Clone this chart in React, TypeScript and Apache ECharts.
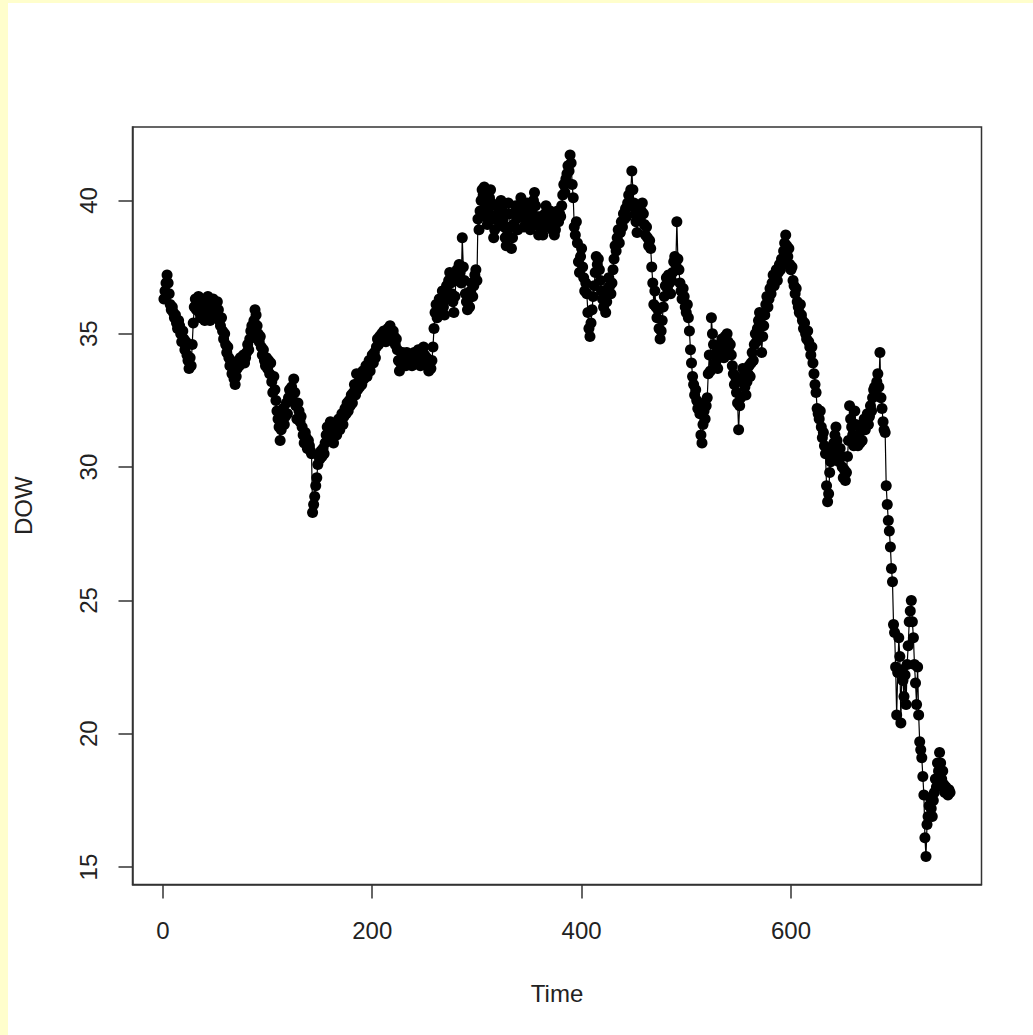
import React, { useEffect, useRef } from "react";
import * as echarts from "echarts";

// DOW closing values (time index 1..752)
const dowPart1: number[] = [
  36.3, 36.6, 36.9, 37.2, 36.9, 36.5, 36.1, 35.9, 36.0, 35.8,
  35.6, 35.7, 35.4, 35.2, 35.5, 35.3, 35.0, 34.7, 35.1, 34.8,
  34.4, 34.7, 34.2, 34.0, 33.7, 34.1, 33.8, 34.6, 35.4, 36.0,
  36.3, 35.9, 36.2, 36.4, 35.8, 35.6, 36.1, 36.3, 35.7, 35.5,
  35.9, 36.2, 36.4, 35.8, 35.5, 35.7, 36.0, 36.3, 35.9, 35.6,
  35.8, 36.2, 35.9, 35.5, 35.3, 35.6, 35.1, 34.8, 35.0, 34.6,
  34.3, 34.5, 34.1, 33.8, 33.9, 33.5, 33.6, 33.3, 33.1, 33.4,
  33.7, 34.0, 33.8, 34.1, 33.9, 34.0, 34.2, 33.9, 34.1, 34.3,
  34.6, 34.4, 34.8, 35.1, 35.3, 35.0, 35.5, 35.9, 35.7, 35.3,
  35.0, 34.7, 34.9, 34.5, 34.2, 34.4, 34.0, 33.8, 34.1, 33.7,
  34.0, 33.5, 33.9, 33.2, 32.8, 33.4, 32.9, 32.5, 32.1, 31.8,
  31.5, 31.0, 31.4, 31.8, 32.2, 31.6, 31.9, 32.4, 32.0, 32.6,
  32.9, 32.5, 33.0, 32.7, 33.3, 32.8, 32.3, 31.8, 32.4, 32.1,
  31.7, 31.9, 31.5, 31.2, 30.9, 31.3, 31.1, 30.7, 31.0, 30.8,
  30.6, 30.5, 28.3, 28.6, 28.9, 29.3, 29.6, 30.1, 30.4, 30.3,
  30.6, 30.4, 30.7, 30.5, 30.9, 31.2, 31.5, 31.0, 31.3, 31.7,
  31.4, 31.1, 30.9, 31.3, 31.6, 31.2, 31.5, 31.8, 31.4, 31.7,
  32.0, 31.6, 31.9, 32.2, 32.0, 32.4, 32.1, 32.5, 32.3, 32.7,
  32.4, 32.8, 33.1, 32.7, 33.5, 32.9, 33.2, 33.0, 33.4, 33.1,
  33.6, 33.3, 33.5, 33.8, 33.4, 33.7, 34.0, 33.6, 33.9, 34.2,
  33.9, 34.3, 34.1, 34.5, 34.8, 34.6, 34.9, 34.7, 35.0, 34.8,
  35.1, 34.9, 34.7, 35.0, 35.2, 34.9, 35.3, 35.0, 34.8, 35.1,
  34.9, 34.6, 34.8, 34.4, 34.0, 33.6, 33.9, 34.1, 34.3, 34.0,
  34.2, 33.8, 34.3, 34.1, 33.9, 34.2, 34.0, 33.8, 34.1, 34.3,
  34.0, 33.9, 34.2, 34.4, 34.1, 33.8, 34.0, 34.3, 34.5, 34.2,
];

const dowPart2: number[] = [
  33.9, 34.1, 33.8, 33.6, 34.0, 33.7, 34.0, 34.5, 35.2, 35.8,
  36.1, 35.6, 36.0, 36.3, 35.9, 36.2, 36.6, 36.0, 35.7, 36.3,
  36.8, 36.4, 37.0, 37.3, 36.9, 36.5, 36.2, 35.8, 36.4, 37.0,
  37.4, 37.2, 37.6, 37.3, 36.9, 38.6, 37.5, 37.0, 36.5, 36.2,
  35.9, 36.3, 36.0, 36.6, 36.9, 36.4, 36.8, 37.2, 37.4, 37.0,
  39.3, 38.9, 39.6, 40.0, 40.4, 40.2, 40.5, 39.8, 39.4, 39.1,
  39.6, 40.1, 40.4, 39.9, 39.3, 38.6, 38.9, 39.4, 39.8, 39.5,
  39.2, 39.6, 40.0, 39.7, 39.3, 39.0, 38.6, 38.3, 38.7, 39.9,
  39.5, 39.0, 38.2, 38.6, 39.1, 39.5, 39.8, 39.3, 38.9, 39.4,
  39.7, 40.1, 39.8, 39.4, 39.0, 39.3, 39.6, 39.9, 39.5, 39.2,
  38.9, 39.3, 39.7, 40.0, 40.3, 39.8, 39.4, 39.1, 38.7, 39.0,
  39.4, 39.0, 38.7, 39.2, 39.5, 39.8, 39.4, 39.0, 39.3, 39.6,
  39.2, 38.9, 39.1, 38.7, 38.9, 39.3, 39.6, 39.2, 39.5, 39.4,
  39.8, 40.2, 40.6, 40.3, 40.8, 41.0, 41.3, 41.1, 41.7, 41.4,
  40.6, 40.1, 39.0, 38.7, 39.2, 38.4, 37.7, 37.3, 37.9, 38.2,
  37.5, 37.1, 36.6, 36.9, 36.5, 35.8, 35.2, 34.9, 35.4, 35.9,
  36.4, 36.8, 37.3, 37.9, 37.6, 37.8, 37.4, 37.0, 36.6, 36.3,
  36.0, 36.4, 35.8, 36.2, 36.7, 37.1, 36.8, 36.5, 36.9, 37.4,
  37.8, 38.3, 38.1, 38.6, 38.9, 38.4, 38.8, 39.2, 39.0, 39.5,
  39.3, 39.7, 39.4, 39.9, 40.2, 39.8, 40.4, 41.1, 40.4, 39.9,
  39.5, 39.2, 38.8, 39.4, 39.7, 39.3, 39.6, 39.9, 39.5, 39.1,
  38.7, 39.0, 38.6, 38.3, 38.5, 38.2, 37.5, 36.9, 36.1, 36.6,
  36.0, 35.6, 35.9, 35.2, 34.8, 35.1, 35.5, 36.0, 36.4, 36.8,
  37.1, 36.7, 37.2, 36.9, 36.5, 37.0, 37.3, 37.7, 37.9, 37.6,
  39.2, 37.8, 37.4, 36.9, 36.6, 36.3, 36.7, 36.4, 36.0, 35.8,
];

const dowPart3: number[] = [
  36.1, 35.6, 35.1, 34.4, 33.9, 33.4, 33.1, 32.7, 32.9, 32.5,
  32.2, 32.4, 32.0, 31.2, 30.9, 31.6, 32.1, 31.8, 32.3, 32.6,
  33.5, 34.2, 33.6, 35.6, 35.0, 34.6, 34.2, 33.9, 34.3, 33.7,
  34.1, 34.5, 34.3, 34.8, 34.4, 34.1, 34.9, 34.6, 35.0, 34.7,
  34.3, 34.6, 34.2, 33.8, 33.5, 33.1, 33.4, 32.8, 32.4, 31.4,
  32.3, 32.6, 33.2, 33.7, 33.4, 33.0, 32.7, 33.2, 33.5, 33.8,
  33.4, 33.9, 34.3, 34.0, 34.6, 35.0, 34.7, 35.2, 35.5, 35.8,
  35.4, 34.3, 34.9, 35.3, 35.7, 36.1, 36.4, 36.0, 36.3, 36.7,
  36.5, 36.9, 37.2, 36.8, 37.1, 37.4, 37.0, 37.3, 37.6, 37.4,
  37.8, 37.6, 38.1, 38.4, 38.7, 38.3, 37.9, 38.2, 37.6, 37.4,
  37.5, 37.0, 36.8, 36.5, 36.7, 36.2, 36.0, 35.8, 36.1, 35.7,
  35.5, 35.2, 35.4, 35.0, 34.8, 35.1, 34.7, 34.5, 34.2, 34.5,
  33.9, 33.5, 33.1, 32.8, 32.2, 32.0, 31.8, 32.1, 31.5, 31.1,
  31.3, 30.8, 30.5, 29.3, 28.7, 29.0, 29.8, 30.2, 30.6, 30.3,
  30.9, 31.2, 31.5, 31.0, 30.6, 30.2, 30.7, 30.4, 30.0, 29.6,
  29.9, 29.5, 29.8, 30.4, 31.0, 32.3, 31.8, 31.5, 31.2, 30.8,
  32.1, 31.6, 31.1, 30.8, 31.2, 30.9, 31.4, 31.0, 31.5, 31.8,
  31.4, 31.7, 32.0, 31.6, 31.9, 32.3, 32.1, 32.6, 32.9, 33.0,
  32.7, 33.2, 33.5, 33.0, 34.3, 32.6, 32.2, 31.7, 31.4, 31.3,
  29.3, 28.6, 28.0, 27.6, 27.0, 26.2, 25.7, 24.1, 23.8, 22.5,
  20.7, 22.3, 23.6, 22.9, 20.4, 22.4, 22.0, 21.4, 22.2, 21.1,
  22.6, 23.3, 24.2, 24.6, 25.0, 24.2, 23.6, 22.6, 21.9, 21.1,
  22.5, 20.7, 19.7, 19.4, 19.1, 18.4, 17.7, 16.1, 15.4, 16.6,
  16.9, 17.3, 17.6, 17.2, 16.9, 17.5, 17.8, 18.3, 18.0, 18.9,
  18.6, 19.3, 18.9, 18.3, 18.6, 18.1, 17.8, 18.0, 17.9, 17.7,
  17.9, 17.8,
];

const timeTicks: number[] = [0, 200, 400, 600];
const dowTicks: number[] = [15, 20, 25, 30, 35, 40];

const FONT = "'Liberation Sans', Arial, sans-serif";

export default function App() {
  const ref = useRef<HTMLDivElement>(null);

  useEffect(() => {
    document.body.style.margin = "0";
    if (!ref.current) return;
    const chart = echarts.init(ref.current, undefined, { renderer: "svg" });

    const dow = [...dowPart1, ...dowPart2, ...dowPart3];
    const n = dow.length;
    const data = dow.map((v, i) => [i + 1, v]);
    const vmin = Math.min(...dow);
    const vmax = Math.max(...dow);
    const xPad = 0.04 * (n - 1);
    const yPad = 0.04 * (vmax - vmin);

    chart.setOption({
      animation: false,
      backgroundColor: "#ffffff",
      grid: {
        left: 124.5,
        top: 124,
        right: 51.5,
        bottom: 150.5,
        containLabel: false,
        outerBoundsMode: "none",
        show: true,
        borderColor: "#333",
        borderWidth: 1.5,
        backgroundColor: "transparent",
      },
      xAxis: {
        type: "value",
        min: 1 - xPad,
        max: n + xPad,
        name: "Time",
        nameLocation: "middle",
        nameGap: 97,
        nameTextStyle: { fontSize: 24, color: "#222", fontFamily: FONT },
        axisLine: { show: true, onZero: false, lineStyle: { color: "#333", width: 1.5 } },
        splitLine: { show: false },
        axisTick: {
          show: true,
          inside: false,
          length: 14,
          customValues: timeTicks,
          lineStyle: { color: "#333", width: 1.5 },
        },
        axisLabel: {
          customValues: timeTicks,
          fontSize: 24,
          margin: 34,
          color: "#222",
          fontFamily: FONT,
        },
      },
      yAxis: {
        type: "value",
        min: vmin - yPad,
        max: vmax + yPad,
        name: "DOW",
        nameLocation: "middle",
        nameGap: 97,
        nameTextStyle: { fontSize: 24, color: "#222", fontFamily: FONT },
        axisLine: { show: true, onZero: false, lineStyle: { color: "#333", width: 1.5 } },
        splitLine: { show: false },
        axisTick: {
          show: true,
          inside: false,
          length: 14,
          customValues: dowTicks,
          lineStyle: { color: "#333", width: 1.5 },
        },
        axisLabel: {
          customValues: dowTicks,
          rotate: 90,
          fontSize: 24,
          margin: 32,
          color: "#222",
          fontFamily: FONT,
        },
      },
      series: [
        {
          type: "line",
          data,
          symbol: "circle",
          symbolSize: 11,
          showSymbol: true,
          showAllSymbol: true,
          itemStyle: { color: "#000" },
          lineStyle: { color: "#000", width: 1.2 },
          clip: true,
        },
      ],
    });

    return () => chart.dispose();
  }, []);

  return (
    <div style={{ position: "relative", width: 1033, height: 1035, background: "#fffecc" }}>
      <div
        ref={ref}
        style={{ position: "absolute", left: 8, top: 3, width: 1025, height: 1032, background: "#fff" }}
      />
    </div>
  );
}
